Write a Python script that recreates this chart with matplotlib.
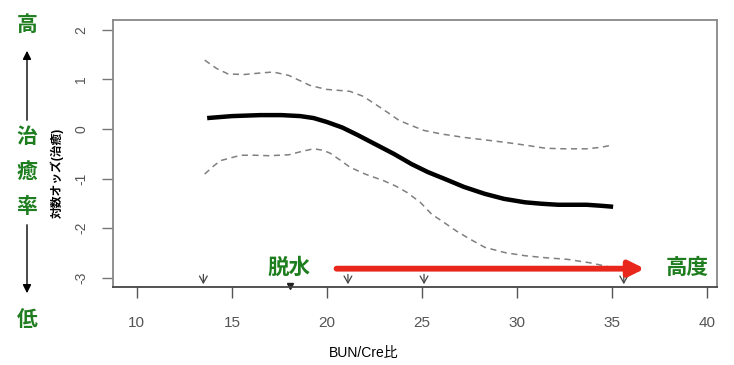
import matplotlib
matplotlib.use('Agg')
import matplotlib.pyplot as plt

plt.rcParams['font.family'] = ['Liberation Sans', 'Noto Sans CJK JP', 'DejaVu Sans']

# fitted log-odds curve
fit_x = [13.7, 15.0, 16.5, 17.6, 18.6, 19.3, 20.0, 20.8, 21.6, 22.5, 23.5, 24.45,
         25.3, 26.2, 27.2, 28.3, 29.3, 30.4, 31.3, 32.15, 33.0, 33.65, 34.4, 35.04]
fit_y = [0.22, 0.26, 0.28, 0.28, 0.26, 0.22, 0.14, 0.03, -0.12, -0.30, -0.50, -0.71,
         -0.87, -1.01, -1.17, -1.31, -1.41, -1.48, -1.51, -1.53, -1.53, -1.53, -1.55, -1.57]

upper_x = [13.57, 14.2, 14.8, 15.67, 16.5, 17.17, 18.0, 19.1, 19.95, 20.6, 21.2, 21.9,
           22.5, 23.2, 23.8, 24.5, 25.1, 26.0, 27.2, 28.3, 29.37, 30.5, 31.5, 32.5,
           33.65, 34.4, 35.04]
upper_y = [1.39, 1.22, 1.11, 1.10, 1.13, 1.15, 1.08, 0.88, 0.80, 0.78, 0.76, 0.66,
           0.51, 0.33, 0.17, 0.06, -0.03, -0.10, -0.17, -0.22, -0.27, -0.33, -0.39, -0.40,
           -0.40, -0.37, -0.32]

lower_x = [13.57, 14.0, 14.39, 15.46, 16.2, 16.96, 18.0, 18.7, 19.3, 19.8, 20.17, 20.7,
           21.2, 22.0, 22.95, 23.6, 24.2, 24.9, 25.5, 26.2, 26.8, 27.5, 28.3, 29.4,
           30.44, 31.5, 32.6, 33.8, 35.04]
lower_y = [-0.91, -0.76, -0.64, -0.53, -0.53, -0.54, -0.52, -0.45, -0.40, -0.43, -0.49, -0.63,
           -0.77, -0.91, -1.04, -1.15, -1.28, -1.48, -1.72, -1.90, -2.06, -2.22, -2.39, -2.50,
           -2.56, -2.60, -2.63, -2.70, -2.80]

rug_x = [13.5, 21.1, 25.1, 35.6]
mid_mark_x = 18.05

xticks = [10, 15, 20, 25, 30, 35, 40]
yticks = [-3, -2, -1, 0, 1, 2]

W, H = 734, 365
fig = plt.figure(figsize=(W / 100, H / 100), dpi=100)
ax = fig.add_axes([113 / W, 1 - 287 / H, 604 / W, 267 / H])

ax.plot(fit_x, fit_y, color='black', lw=3.2, solid_capstyle='butt')
ax.plot(upper_x, upper_y, color='#808080', lw=1.1, dashes=(4, 3))
ax.plot(lower_x, lower_y, color='#808080', lw=1.1, dashes=(4, 3))

# rug-like arrows along the bottom
for x in rug_x:
    ax.annotate('', xy=(x, -3.19), xytext=(x, -2.88),
                arrowprops=dict(arrowstyle='->,head_width=0.28,head_length=0.5',
                                color='#444444', lw=0.9))
ax.plot([mid_mark_x], [-3.16], marker='v', color='#222222', ms=4, clip_on=False)

# red arrow and green annotations
ax.annotate('', xy=(36.7, -2.82), xytext=(20.5, -2.82),
            arrowprops=dict(arrowstyle='-|>,head_width=0.45,head_length=0.9',
                            color='#e8261c', lw=4.2, shrinkA=0, shrinkB=0))
green = '#1e7d1e'
ax.text(18.0, -2.82, '脱水', color=green, fontsize=15.5, fontweight='bold',
        ha='center', va='center')
ax.text(38.95, -2.82, '高度', color=green, fontsize=15.5, fontweight='bold',
        ha='center', va='center')

ax.set_xlim(8.75, 40.5)
ax.set_ylim(-3.19, 2.2)
ax.set_xticks(xticks)
ax.set_yticks(yticks)
ax.set_xticklabels([str(t) for t in xticks], fontsize=11, color='#555555')
ax.set_yticklabels([str(t) for t in yticks], fontsize=10, color='#555555',
                   rotation=90, va='center')
ax.tick_params(axis='x', length=8, width=1.0, color='#555555', pad=13)
ax.tick_params(axis='y', length=8, width=1.0, color='#777777', pad=10)
for side, sp in ax.spines.items():
    sp.set_color('#888888')
    sp.set_linewidth(1.3)
ax.spines['bottom'].set_color('#444444')

fig.text(364 / W, 1 - 353 / H, 'BUN/Cre比', fontsize=10, ha='center', va='center')
fig.text(57 / W, 1 - 173 / H, '対数オッズ(治癒)', rotation=90, fontsize=8.5,
         ha='center', va='center', fontweight='bold')

# left-hand vertical scale: 高 ↑ 治癒率 ↓ 低
def fp(x, y):
    return (x / W, 1 - y / H)

for ch, y in [('高', 25), ('治', 137), ('癒', 172), ('率', 207), ('低', 320)]:
    fig.text(*fp(27, y), ch, color=green, fontsize=15, fontweight='bold',
             ha='center', va='center')
fig.add_artist(matplotlib.patches.FancyArrowPatch(
    fp(27, 123), fp(27, 48), transform=fig.transFigure,
    arrowstyle='-|>,head_width=2.5,head_length=5', color='black', lw=1.0))
fig.add_artist(matplotlib.patches.FancyArrowPatch(
    fp(27, 222), fp(27, 296), transform=fig.transFigure,
    arrowstyle='-|>,head_width=2.5,head_length=5', color='black', lw=1.0))

fig.savefig('out.png', dpi=100)
